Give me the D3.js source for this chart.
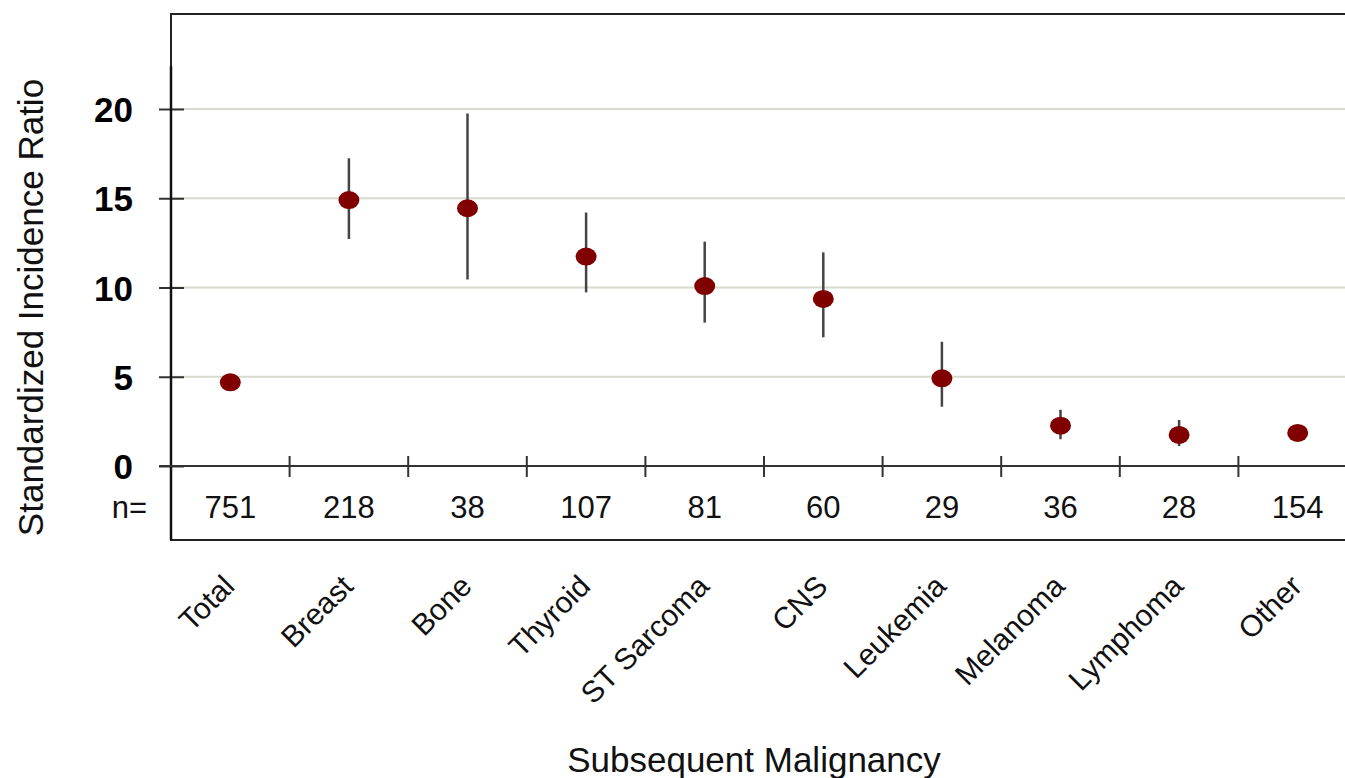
<!DOCTYPE html>
<html><head><meta charset="utf-8">
<script src="https://cdn.jsdelivr.net/npm/d3@7"></script>
<style>
html,body{margin:0;padding:0;background:#fff;}
svg{display:block;font-family:"Liberation Sans",Arial,sans-serif;}
</style></head>
<body>
<svg id="chart" width="1345" height="778"></svg>
<script>
const categories = ["Total","Breast","Bone","Thyroid","ST Sarcoma","CNS","Leukemia","Melanoma","Lymphoma","Other"];
const nValues = [751,218,38,107,81,60,29,36,28,154];
const sir = [4.69,14.9,14.44,11.73,10.08,9.36,4.91,2.26,1.74,1.85];
const ciLow = [4.5,12.72,10.45,9.73,8.03,7.21,3.32,1.5,1.12,1.65];
const ciHigh = [4.9,17.24,19.75,14.2,12.57,11.97,6.96,3.15,2.58,2.05];
const yTicks = [0,5,10,15,20];

const svg = d3.select("#chart");
const W = 1345, H = 778;
const frameL = 171, frameT = 14, frameB = 540;

const x = d3.scaleBand().domain(categories).range([171, 1357]).padding(0);
const y = d3.scaleLinear().domain([0, 20]).range([466, 109]);

// gridlines
svg.append("g").selectAll("line").data(yTicks.filter(d => d > 0)).join("line")
  .attr("x1", frameL).attr("x2", W)
  .attr("y1", d => y(d)).attr("y2", d => y(d))
  .attr("stroke", "#d6dbcd").attr("stroke-width", 2.2);

// frame
svg.append("path")
  .attr("d", `M${W},${frameT}H${frameL}V${frameB}H${W}`)
  .attr("fill", "none").attr("stroke", "#222").attr("stroke-width", 2);

// y axis
const yAxis = d3.axisLeft(y).tickValues(yTicks).tickSizeInner(12).tickSizeOuter(0).tickPadding(26);
const gy = svg.append("g").attr("transform", `translate(${frameL},0)`).call(yAxis);
gy.select(".domain").remove();
gy.selectAll(".tick line").attr("stroke", "#333").attr("stroke-width", 2).attr("x2", 13).attr("x1", -12);
gy.selectAll(".tick text").attr("font-size", 35).attr("font-weight", "bold")
  .attr("font-family", "'Liberation Sans', Arial, sans-serif").attr("fill", "#000").attr("dy", "0.36em");
svg.append("line").attr("x1", frameL).attr("x2", frameL).attr("y1", y(22.4)).attr("y2", frameB)
  .attr("stroke", "#111").attr("stroke-width", 2.5);

// x axis (zero line) with separating ticks
svg.append("line").attr("x1", 159).attr("x2", W).attr("y1", y(0)).attr("y2", y(0))
  .attr("stroke", "#333").attr("stroke-width", 2);
svg.append("g").selectAll("line").data(categories.slice(1)).join("line")
  .attr("x1", d => x(d)).attr("x2", d => x(d))
  .attr("y1", y(0) - 10).attr("y2", y(0) + 11)
  .attr("stroke", "#333").attr("stroke-width", 2);

// n row
svg.append("text").attr("x", 147).attr("y", 518).attr("text-anchor", "end")
  .attr("font-size", 31).attr("fill", "#111").text("n=");
svg.append("g").selectAll("text").data(categories).join("text")
  .attr("x", d => x(d) + x.bandwidth() / 2).attr("y", 518)
  .attr("text-anchor", "middle").attr("font-size", 31).attr("fill", "#111")
  .text((d, i) => nValues[i]);

// category labels
svg.append("g").selectAll("text").data(categories).join("text")
  .attr("transform", d => `translate(${x(d) + x.bandwidth() / 2 + 6},588) rotate(-45)`)
  .attr("text-anchor", "end").attr("font-size", 30).attr("fill", "#111")
  .text(d => d);

// error bars
const cx = d => x(d) + x.bandwidth() / 2;
svg.append("g").selectAll("line").data(categories).join("line")
  .attr("x1", d => cx(d)).attr("x2", d => cx(d))
  .attr("y1", (d, i) => y(ciLow[i])).attr("y2", (d, i) => y(ciHigh[i]))
  .attr("stroke", "#444").attr("stroke-width", 2.5);

// points
svg.append("g").selectAll("ellipse").data(categories).join("ellipse")
  .attr("cx", d => cx(d)).attr("cy", (d, i) => y(sir[i]))
  .attr("rx", 10.5).attr("ry", 9).attr("fill", "#800000");

// axis titles
svg.append("text").attr("transform", `translate(43,${(77 + 538) / 2}) rotate(-90)`)
  .attr("text-anchor", "middle").attr("font-size", 35).attr("fill", "#111")
  .text("Standardized Incidence Ratio");
svg.append("text").attr("x", 754).attr("y", 772).attr("text-anchor", "middle")
  .attr("font-size", 35).attr("fill", "#111").text("Subsequent Malignancy");
</script>
</body></html>
